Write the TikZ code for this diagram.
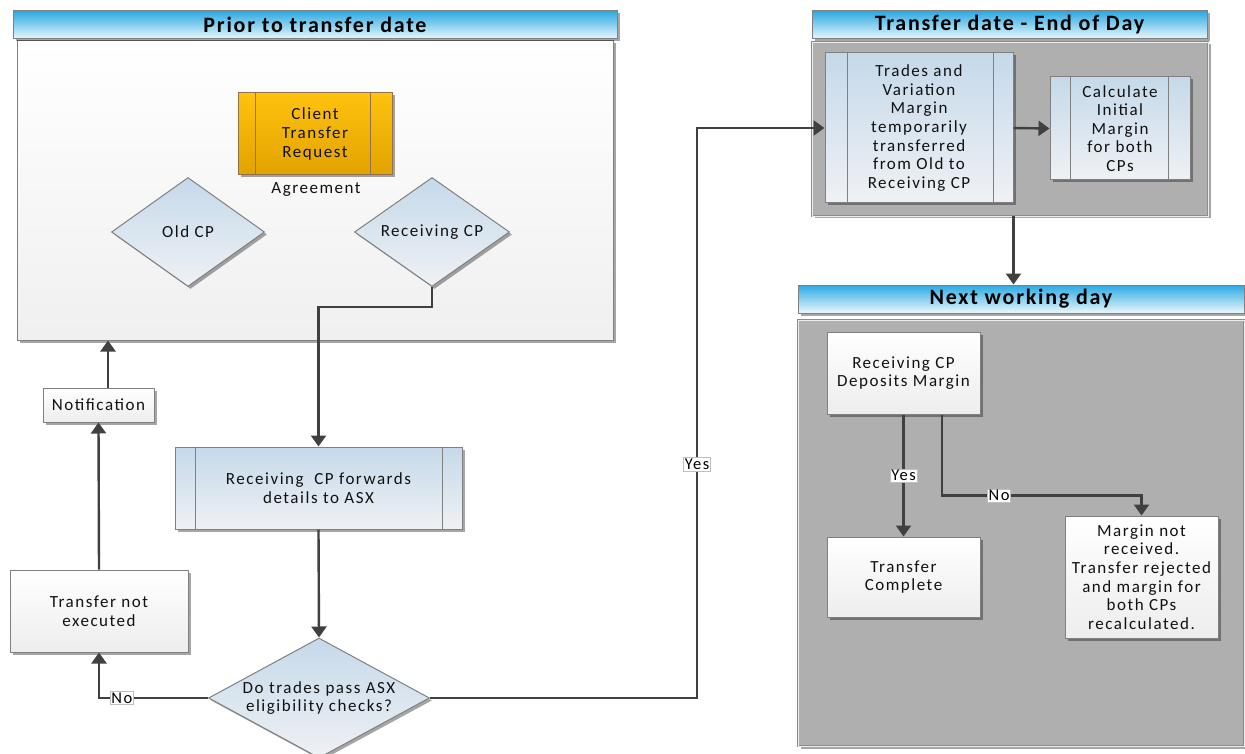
\documentclass[tikz,border=0pt]{standalone}
\usepackage{fontspec}
\setmainfont{Carlito}
\newfontfamily\bodyfont{Carlito}[LetterSpace=9]
\newfontfamily\titlefont{Carlito}[LetterSpace=8]
\usetikzlibrary{arrows.meta,shapes.geometric,shadows,calc}
\definecolor{linec}{HTML}{404040}
\definecolor{bordc}{HTML}{808080}
\definecolor{hdrtop}{HTML}{2CA9E1}
\definecolor{hdrbot}{HTML}{EAF7FC}
\definecolor{bluetop}{HTML}{C5D9EA}
\definecolor{bluebot}{HTML}{EFF1F4}
\definecolor{ortop}{HTML}{FFC20E}
\definecolor{orbot}{HTML}{E2A200}
\definecolor{panelgray}{HTML}{AFAFAF}
\definecolor{txtc}{HTML}{111111}
\tikzset{
  shad/.style={drop shadow={shadow xshift=2.5pt,shadow yshift=-2.5pt,fill=black,opacity=0.35}},
  base/.style={draw=bordc,line width=1pt,inner sep=0pt,align=center,text=txtc,
    font=\bodyfont\fontsize{17}{18.6}\selectfont},
  hdr/.style={base,shad,top color=hdrtop,bottom color=hdrbot,
    font=\titlefont\fontsize{22}{23}\selectfont\bfseries,text=black},
  panelw/.style={base,shad,top color=white,bottom color=black!6},
  panelg/.style={base,shad,fill=panelgray,draw=black!45,double=white!85!gray,double distance=0.8pt},
  procb/.style={base,shad,top color=bluetop,bottom color=bluebot},
  procw/.style={base,shad,top color=white,bottom color=black!7},
  proco/.style={base,shad,top color=ortop,bottom color=orbot,draw=black!60!orange!70},
  dmd/.style={base,shad,diamond,top color=bluetop,bottom color=bluebot},
  arr/.style={draw=linec,line width=2.4pt,-{Triangle[length=11pt,width=15pt]}},
  lbl/.style={fill=white,draw=black!25,line width=0.6pt,inner sep=1.2pt,text=black,
    font=\bodyfont\fontsize{16.5}{17}\selectfont},
}
\begin{document}
\begin{tikzpicture}[x=1pt,y=-1pt]
\useasboundingbox[fill=white] (0,0) rectangle (1245,754);

% ---------- Panel 1
\node[panelw,minimum width=596,minimum height=299] (p1) at (315,190.5) {};
\node[hdr,minimum width=604,minimum height=28] (h1) at (315,25) {Prior to transfer date};
\node[proco,minimum width=154,minimum height=82] (ctr) at (315,134) {Client\\Transfer\\Request};
\draw[draw=black!60!orange!70,line width=1pt] ([xshift=18]ctr.north west) -- ([xshift=18]ctr.south west)
  ([xshift=-22]ctr.north east) -- ([xshift=-22]ctr.south east);
\node[text=txtc,font=\bodyfont\fontsize{17}{18.6}\selectfont] (agr) at (316,190) {Agreement};
\node[dmd,aspect=1.4,minimum width=153,minimum height=109] (old) at (188,232) {Old CP};
\node[dmd,aspect=1.4,minimum width=155,minimum height=109] (rcp) at (432,232) {Receiving CP};

% ---------- Left flow
\node[procb,minimum width=287,minimum height=82] (fwd) at (318.5,488) {Receiving\ \ CP forwards\\details to ASX};
\draw[draw=bordc,line width=1pt] ([xshift=21]fwd.north west) -- ([xshift=21]fwd.south west)
  ([xshift=-20]fwd.north east) -- ([xshift=-20]fwd.south east);
\node[dmd,aspect=1.84,minimum width=221,minimum height=120] (dec) at (319,698) {Do trades pass ASX\\eligibility checks?};
\node[procw,minimum width=178,minimum height=82] (nex) at (99,611) {Transfer not\\executed};
\node[procw,minimum width=111,minimum height=34] (notif) at (98.5,405) {Notification};

% ---------- Panel 2
\node[panelg,minimum width=396,minimum height=174] (p2) at (1010,129) {};
\node[hdr,minimum width=395,minimum height=28] (h2) at (1009.5,25) {Transfer date - End of Day};
\node[procb,minimum width=188,minimum height=150] (trd) at (919,128)
  {Trades and\\Variation\\Margin\\temporarily\\transferred\\from Old to\\Receiving CP};
\draw[draw=bordc,line width=1pt] ([xshift=23]trd.north west) -- ([xshift=23]trd.south west)
  ([xshift=-20]trd.north east) -- ([xshift=-20]trd.south east);
\node[procb,minimum width=140,minimum height=103] (calc) at (1120,128.5)
  {Calculate\\Initial\\Margin\\for both\\CPs};
\draw[draw=bordc,line width=1pt] ([xshift=21]calc.north west) -- ([xshift=21]calc.south west)
  ([xshift=-22]calc.north east) -- ([xshift=-22]calc.south east);

% ---------- Panel 3
\node[panelg,minimum width=446,minimum height=426] (p3) at (1021,533) {};
\node[hdr,minimum width=446,minimum height=28] (h3) at (1021,299) {Next working day};
\node[procw,minimum width=153,minimum height=82] (dep) at (903.5,373) {Receiving CP\\Deposits Margin};
\node[procw,minimum width=153,minimum height=80] (comp) at (903.5,577) {Transfer\\Complete};
\node[procw,minimum width=153,minimum height=122] (mnr) at (1141.5,577)
  {Margin not\\received.\\Transfer rejected\\and margin for\\both CPs\\recalculated.};

% ---------- Connectors
\coordinate (yx) at (697,0);
\draw[arr] (rcp.south) -- ++(0,20) -| (fwd.north);
\draw[arr] (fwd.south) -- (dec.north);
\draw[arr] (dec.west) -- node[lbl,pos=0.79]{No} (nex.south |- dec.west) -- (nex.south);
\draw[arr] (nex.north) -- (notif.south);
\draw[arr] ([xshift=9.5]notif.north) -- ([xshift=9.5]notif.north |- p1.south);
\draw[arr] (dec.east) -- (dec.east -| yx) -- node[lbl,pos=0.41]{Yes} (yx |- trd.west) -- (trd.west);
\draw[arr] (trd.east) -- (calc.west);
\draw[arr] (trd.east |- p2.south) -- (trd.east |- h3.north);
\draw[arr] (dep.south) -- node[lbl,pos=0.5]{Yes} (comp.north);
\draw[arr] ([xshift=38.5]dep.south) |- node[lbl,pos=0.643]{No} ($(mnr.north)+(0,-20)$) -- (mnr.north);
\end{tikzpicture}
\end{document}
